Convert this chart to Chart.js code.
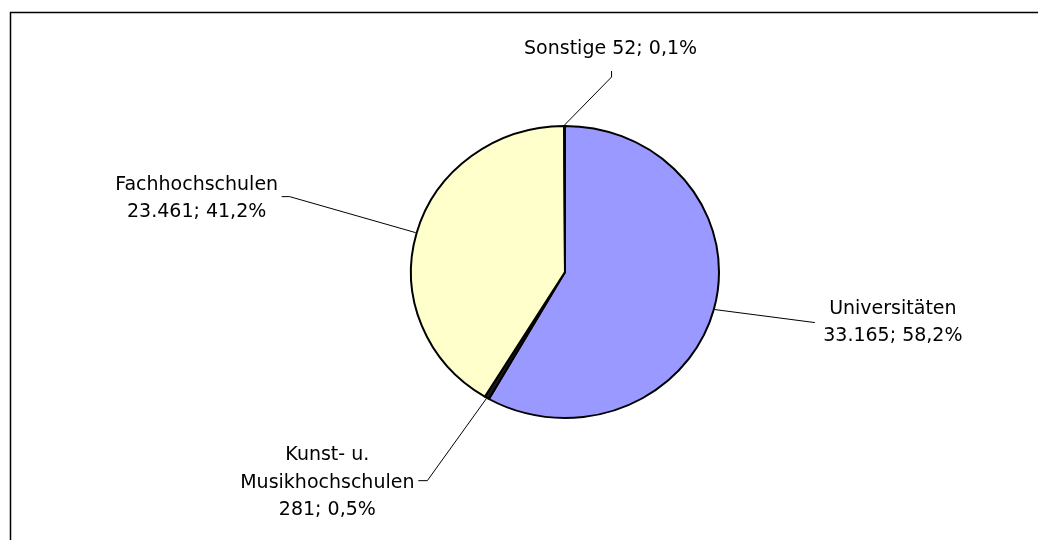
<!DOCTYPE html>
<html>
<head>
<meta charset="utf-8">
<script src="https://cdn.jsdelivr.net/npm/chart.js@4/dist/chart.umd.min.js"></script>
<style>
  html, body { margin: 0; padding: 0; background: #fff; }
  #wrap { width: 1038px; height: 540px; position: relative; }
</style>
</head>
<body>
<div id="wrap"><canvas id="c" width="1038" height="540"></canvas></div>
<script>
// ---- data ----
const categories = ["Universitäten", "Kunst- u. Musikhochschulen", "Fachhochschulen", "Sonstige"];
const labelLines = [["Universitäten"], ["Kunst- u.", "Musikhochschulen"], ["Fachhochschulen"], ["Sonstige"]];
const values = [33165, 281, 23461, 52];
const colors = ["#9999FF", "#1a1a1a", "#FFFFCC", "#CCFFFF"];

// ---- label layout (relative to the slice's edge anchor) ----
const labelLayout = [
  { path: [[100, 13]], text: [178, 13], sameLine: false },          // Universitäten
  { path: [[-59, 82], [-68, 82]], text: [-159, 84], sameLine: false }, // Kunst
  { path: [[-126, -36], [-134, -36]], text: [-219, -34], sameLine: false }, // Fachhochschulen
  { path: [[47, -48], [47, -54]], text: [46, -76], sameLine: true }   // Sonstige
];

const FONT = '19px "DejaVu Sans"';
const LINE_H = 27.5;
const Y_SCALE = 294 / 310;

const total = values.reduce((a, b) => a + b, 0);
const fmtNum = v => v.toLocaleString('de-DE');
const fmtPct = v => (v / total * 100).toLocaleString('de-DE', { minimumFractionDigits: 1, maximumFractionDigits: 1 }) + '%';

function labelFor(i) {
  const tail = fmtNum(values[i]) + '; ' + fmtPct(values[i]);
  const lines = labelLines[i].slice();
  if (labelLayout[i].sameLine) {
    lines[lines.length - 1] += ' ' + tail;
  } else {
    lines.push(tail);
  }
  return lines;
}

const framePlugin = {
  id: 'frame',
  beforeDraw(chart) {
    const ctx = chart.ctx;
    ctx.save();
    ctx.fillStyle = '#fff';
    ctx.fillRect(0, 0, chart.width, chart.height);
    ctx.strokeStyle = '#000';
    ctx.lineWidth = 1.5;
    ctx.beginPath();
    ctx.moveTo(10.5, chart.height);
    ctx.lineTo(10.5, 12.5);
    ctx.lineTo(chart.width, 12.5);
    ctx.stroke();
    ctx.restore();
  }
};

const ellipsePlugin = {
  id: 'ellipse',
  beforeDatasetsDraw(chart) {
    const arc = chart.getDatasetMeta(0).data[0];
    const ctx = chart.ctx;
    ctx.save();
    ctx.translate(arc.x, arc.y);
    ctx.scale(1, Y_SCALE);
    ctx.translate(-arc.x, -arc.y);
  },
  afterDatasetsDraw(chart) {
    chart.ctx.restore();
  }
};

const labelPlugin = {
  id: 'pieLabels',
  afterDraw(chart) {
    const ctx = chart.ctx;
    const meta = chart.getDatasetMeta(0);
    ctx.save();
    ctx.font = FONT;
    ctx.fillStyle = '#000';
    ctx.strokeStyle = '#000';
    ctx.lineWidth = 1;
    ctx.textAlign = 'center';
    ctx.textBaseline = 'middle';
    meta.data.forEach((arc, i) => {
      const p = arc.getProps(['x', 'y', 'startAngle', 'endAngle', 'outerRadius'], true);
      const mid = (p.startAngle + p.endAngle) / 2;
      const r = p.outerRadius + 1;
      const ax = p.x + r * Math.cos(mid);
      const ay = p.y + r * Math.sin(mid) * Y_SCALE;
      const L = labelLayout[i];
      ctx.beginPath();
      ctx.moveTo(ax, ay);
      L.path.forEach(pt => ctx.lineTo(ax + pt[0], ay + pt[1]));
      ctx.stroke();
      const lines = labelFor(i);
      const cx = ax + L.text[0];
      const cy = ay + L.text[1];
      const top = cy - (lines.length - 1) * LINE_H / 2;
      lines.forEach((t, k) => ctx.fillText(t, cx, top + k * LINE_H));
    });
    ctx.restore();
  }
};

new Chart(document.getElementById('c'), {
  type: 'pie',
  data: {
    labels: categories,
    datasets: [{
      data: values,
      backgroundColor: colors,
      borderColor: '#000',
      borderWidth: 2
    }]
  },
  options: {
    responsive: false,
    animation: false,
    devicePixelRatio: 1,
    layout: { padding: { left: 410, right: 318, top: 117, bottom: 113 } },
    plugins: {
      legend: { display: false },
      tooltip: { enabled: false }
    }
  },
  plugins: [framePlugin, ellipsePlugin, labelPlugin]
});
</script>
</body>
</html>
